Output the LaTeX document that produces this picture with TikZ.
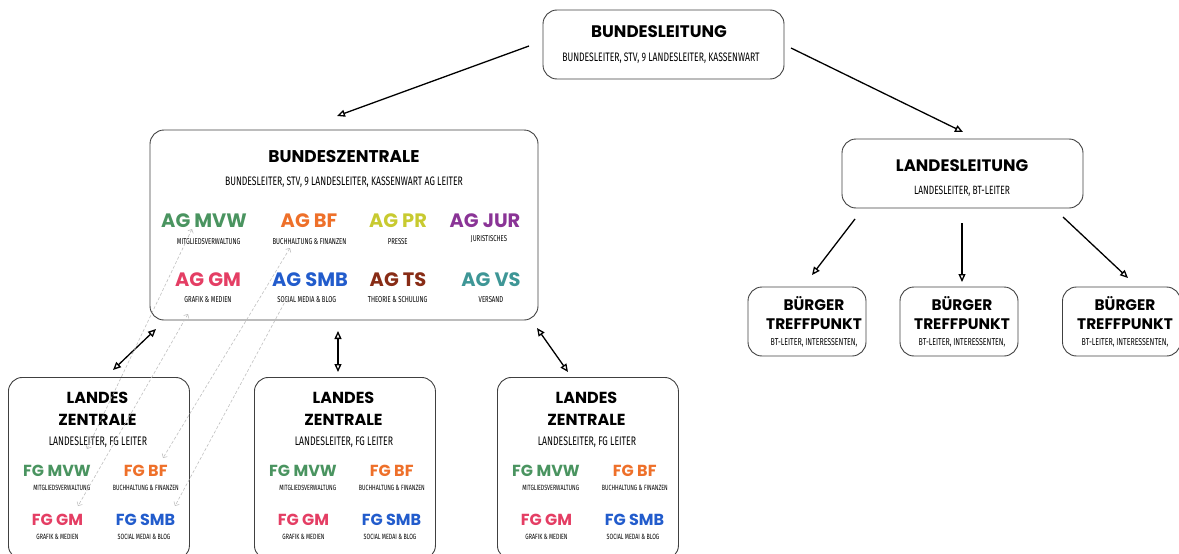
\documentclass[tikz,border=0pt]{standalone}
\usepackage{fontspec}
\setmainfont{Fira Sans}
\newfontfamily\headfont{Poppins}
\newfontfamily\condfont{Fira Sans}[FakeStretch=0.7]
\usetikzlibrary{arrows.meta}

\definecolor{colmvw}{RGB}{74,148,96}
\definecolor{colbf}{RGB}{238,112,42}
\definecolor{colpr}{RGB}{200,202,48}
\definecolor{coljur}{RGB}{138,52,150}
\definecolor{colgm}{RGB}{228,62,100}
\definecolor{colsmb}{RGB}{34,92,204}
\definecolor{colts}{RGB}{136,44,22}
\definecolor{colvs}{RGB}{62,150,150}

\tikzset{
  box/.style={draw=black!75, line width=0.9pt, rounded corners=14pt},
  title/.style={anchor=base, inner sep=0pt, font=\headfont\bfseries\fontsize{#1}{#1}\selectfont},
  title/.default=16.7,
  sub/.style={anchor=base, inner sep=0pt, font=\condfont\fontsize{#1}{#1}\selectfont},
  sub/.default=12.3,
  link/.style={line width=1.3pt, -{Triangle[open,length=8pt,width=7pt]}},
  twolink/.style={line width=1.3pt, {Triangle[open,length=8pt,width=7pt]}-{Triangle[open,length=8pt,width=7pt]}},
  faint/.style={black!25, densely dashed, line width=0.6pt, {Straight Barb[length=3pt]}-{Straight Barb[length=3pt]}}
}

\begin{document}
\begin{tikzpicture}[x=1pt,y=-1pt]
  \useasboundingbox (0,0) rectangle (1179,554);

  % Bundesleitung
  \node[box, minimum width=241pt, minimum height=69pt] (bl) at (663.5,44.5) {};
  \node[title] (blt) at (659,37.5) {BUNDESLEITUNG};
  \node[sub] (bls) at (661,61) {BUNDESLEITER, STV, 9 LANDESLEITER, KASSENWART};

  % Bundeszentrale with the AGs
  \node[box, minimum width=388pt, minimum height=190pt] (bz) at (344,225) {};
  \node[title=17] (bzt) at (344,162.7) {BUNDESZENTRALE};
  \node[sub] (bzs) at (344,185) {BUNDESLEITER, STV, 9 LANDESLEITER, KASSENWART AG LEITER};
  \node[title=19.4, colmvw] (agmvw) at (204,227.3) {AG MVW};
  \node[title=19.4, colbf] (agbf) at (309,227.3) {AG BF};
  \node[title=19.4, colpr] (agpr) at (398,227.3) {AG PR};
  \node[title=19.4, coljur] (agjur) at (485,227.3) {AG JUR};
  \node[sub=8.5] (agmvws) at (208.7,244) {MITGLIEDSVERWALTUNG};
  \node[sub=8.5] (agbfs) at (309.5,244) {BUCHHALTUNG \& FINANZEN};
  \node[sub=8.5] (agprs) at (397.7,244) {PRESSE};
  \node[sub=8.5] (agjurs) at (489,241) {JURISTISCHES};
  \node[title=19.4, colgm] (aggm) at (208,286.7) {AG GM};
  \node[title=19.4, colsmb] (agsmb) at (310,286.7) {AG SMB};
  \node[title=19.4, colts] (agts) at (398,286.7) {AG TS};
  \node[title=19.4, colvs] (agvs) at (491,286.7) {AG VS};
  \node[sub=8.5] (aggms) at (208,302.7) {GRAFIK \& MEDIEN};
  \node[sub=8.5] (agsmbs) at (306.7,302.7) {SOCIAL MEDIA \& BLOG};
  \node[sub=8.5] (agtss) at (397.7,302.7) {THEORIE \& SCHULUNG};
  \node[sub=8.5] (agvss) at (491,302.7) {VERSAND};

  % Landeszentralen with the FGs
  \foreach \i/\dx in {1/0, 2/246, 3/489} {
    \node[box, minimum width=181pt, minimum height=182pt, anchor=north west] (lz\i) at (8+\dx,377) {};
    \node[title=16] (lzta\i) at (97.5+\dx,403.3) {LANDES};
    \node[title=16] (lztb\i) at (97.5+\dx,425) {ZENTRALE};
    \node[sub=12.4] (lzs\i) at (98+\dx,445.7) {LANDESLEITER, FG LEITER};
    \node[title=16, colmvw] (fgmvw\i) at (57+\dx,476) {FG MVW};
    \node[title=16, colbf] (fgbf\i) at (145.7+\dx,476) {FG BF};
    \node[sub=7.6] (fgmvws\i) at (61.7+\dx,490) {MITGLIEDSVERWALTUNG};
    \node[sub=7.6] (fgbfs\i) at (145.8+\dx,490) {BUCHHALTUNG \& FINANZEN};
    \node[title=16, colgm] (fggm\i) at (57.5+\dx,525) {FG GM};
    \node[title=16, colsmb] (fgsmb\i) at (145.5+\dx,525) {FG SMB};
    \node[sub=7.6] (fggms\i) at (57.5+\dx,539.3) {GRAFIK \& MEDIEN};
    \node[sub=7.6] (fgsmbs\i) at (144+\dx,539.3) {SOCIAL MEDAI \& BLOG};
  }

  % Landesleitung and Buerger Treffpunkte
  \node[box, minimum width=241pt, minimum height=69pt] (ll) at (962.5,173.5) {};
  \node[title=16.6] (llt) at (962,171.7) {LANDESLEITUNG};
  \node[sub=12] (lls) at (962,194) {LANDESLEITER, BT-LEITER};
  \foreach \i/\bx/\tx in {1/807/814, 2/959/962, 3/1121.5/1125} {
    \node[box, minimum width=118pt, minimum height=69pt] (bt\i) at (\bx,321.5) {};
    \node[title=15.3] (btta\i) at (\tx,310.7) {BÜRGER};
    \node[title=15.3] (bttb\i) at (\tx,329.3) {TREFFPUNKT};
    \node[sub=10] (bts\i) at (\tx,345) {BT-LEITER, INTERESSENTEN,};
  }

  % Arrow ends
  \coordinate (blw) at (529,46);
  \coordinate (bzn) at (337,116);
  \coordinate (ble) at (791,48);
  \coordinate (lln) at (963,132);
  \coordinate (bza) at (156,329);
  \coordinate (lza) at (113,370);
  \coordinate (bzb) at (338,331);
  \coordinate (lzb) at (338,372);
  \coordinate (bzc) at (537,328);
  \coordinate (lzc) at (568,372);
  \coordinate (lla) at (855,219);
  \coordinate (bta) at (812,275);
  \coordinate (llb) at (962,223);
  \coordinate (btb) at (962,282);
  \coordinate (llc) at (1063,217);
  \coordinate (btc) at (1128,278);
  \coordinate (mvwa) at (192,229);
  \coordinate (mvwb) at (87,449);
  \coordinate (bfa) at (290,248);
  \coordinate (bfb) at (163,458);
  \coordinate (gma) at (188,314);
  \coordinate (gmb) at (78,506);
  \coordinate (smba) at (287,298);
  \coordinate (smbb) at (175,506);

  % Connect the nodes
  \draw[link] (blw) -- (bzn);
  \draw[link] (ble) -- (lln);
  \draw[twolink] (bza) -- (lza);
  \draw[twolink] (bzb) -- (lzb);
  \draw[twolink] (bzc) -- (lzc);
  \draw[link] (lla) -- (bta);
  \draw[link] (llb) -- (btb);
  \draw[link] (llc) -- (btc);
  \draw[faint] (mvwa) -- (mvwb);
  \draw[faint] (bfa) -- (bfb);
  \draw[faint] (gma) -- (gmb);
  \draw[faint] (smba) -- (smbb);
\end{tikzpicture}
\end{document}
